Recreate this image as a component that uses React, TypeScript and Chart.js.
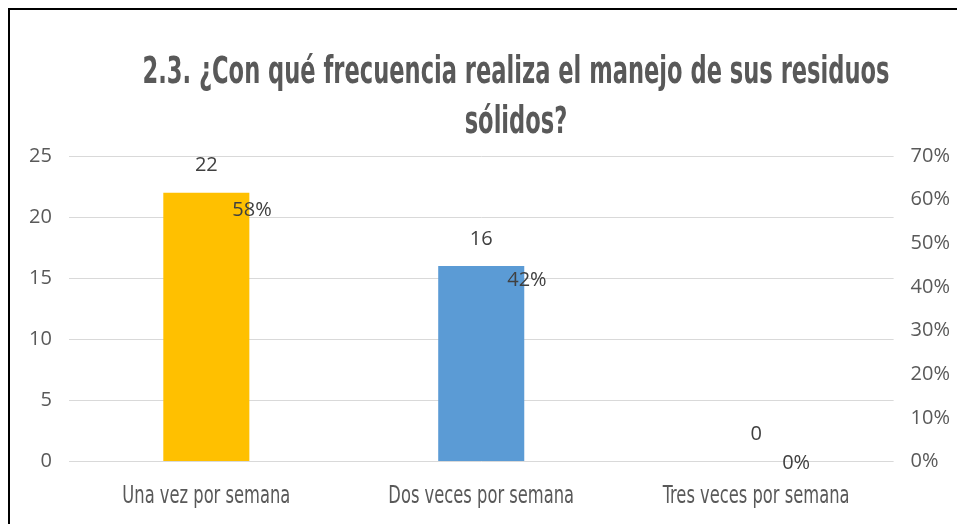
import React, { useEffect, useRef } from "react";
import { Chart, registerables } from "chart.js";

Chart.register(...registerables);

const titleLines = ["2.3. ¿Con qué frecuencia realiza el manejo de sus residuos", "sólidos?"];
const categories = ["Una vez por semana", "Dos veces por semana", "Tres veces por semana"];
const counts = [22, 16, 0];
const shares = [0.58, 0.42, 0];
const barColors = ["#FFC000", "#5B9BD5", "#A5A5A5"];
const leftTicks = [0, 5, 10, 15, 20, 25];
const rightTicks = ["0%", "10%", "20%", "30%", "40%", "50%", "60%", "70%"];

const NARROW = '"Liberation Sans Narrow", "DejaVu Sans Condensed", "Roboto Condensed", "Liberation Sans", sans-serif';
const BODY = '"Open Sans", "Noto Sans", sans-serif';

const textPlugin = {
  id: "condensedText",
  afterDraw(chart: any) {
    const ctx = chart.ctx;
    ctx.save();
    ctx.fillStyle = "#595959";
    // title
    ctx.font = `bold 37px ${NARROW}`;
    ctx.textAlign = "center";
    ctx.textBaseline = "alphabetic";
    const w = ctx.measureText(titleLines[0]).width;
    const sx = Math.min(1, 747 / w);
    const cx = chart.width / 2;
    const baselines = [73, 122.5];
    titleLines.forEach((line, i) => {
      ctx.save();
      ctx.translate(cx, baselines[i]);
      ctx.scale(sx, 1);
      ctx.fillText(line, 0, 0);
      ctx.restore();
    });
    // category labels
    const xs = chart.scales.x;
    ctx.font = `25px ${NARROW}`;
    ctx.textBaseline = "middle";
    const lw = ctx.measureText(categories[0]).width;
    const lsx = Math.min(1, 168 / lw);
    categories.forEach((c, i) => {
      ctx.save();
      ctx.translate(xs.getPixelForTick(i), chart.chartArea.bottom + 35);
      ctx.scale(lsx, 1);
      ctx.fillText(c, 0, 0);
      ctx.restore();
    });
    ctx.restore();
  },
};

const labelPlugin = {
  id: "valueLabels",
  afterDatasetsDraw(chart: any) {
    const ctx = chart.ctx;
    ctx.save();
    ctx.fillStyle = "#404040";
    ctx.font = `20px ${BODY}`;
    chart.data.datasets.forEach((ds: any, di: number) => {
      const meta = chart.getDatasetMeta(di);
      meta.data.forEach((el: any, i: number) => {
        const v = ds.data[i];
        if (ds.type === "line") {
          ctx.textAlign = "left";
          ctx.textBaseline = "middle";
          ctx.fillText(Math.round(v * 100) + "%", el.x + 26, el.y + 2);
        } else {
          ctx.textAlign = "center";
          ctx.textBaseline = "middle";
          ctx.fillText(String(v), el.x, el.y - 27);
        }
      });
    });
    ctx.restore();
  },
};

export default function App() {
  const ref = useRef<HTMLCanvasElement | null>(null);
  useEffect(() => {
    if (!ref.current) return;
    const chart = new Chart(ref.current, {
      type: "bar",
      data: {
        labels: categories,
        datasets: [
          {
            type: "bar",
            label: "Frecuencia",
            data: counts,
            backgroundColor: barColors,
            borderWidth: 0,
            barPercentage: 0.313,
            categoryPercentage: 1,
            yAxisID: "y",
          } as any,
          {
            type: "line",
            label: "Porcentaje",
            data: shares,
            showLine: false,
            pointRadius: 0,
            pointHoverRadius: 0,
            borderColor: "transparent",
            backgroundColor: "transparent",
            yAxisID: "y1",
          } as any,
        ],
      },
      options: {
        responsive: false,
        animation: false,
        devicePixelRatio: 1,
        layout: { padding: { top: 146, left: 2, right: 55, bottom: 8 } },
        plugins: {
          legend: { display: false },
          tooltip: { enabled: false },
          title: { display: false },
        },
        scales: {
          x: {
            grid: { display: false, drawTicks: false },
            border: { display: false },
            ticks: {
              color: "rgba(0,0,0,0)",
              font: { family: NARROW, size: 22 },
              padding: 22,
              maxRotation: 0,
            },
          },
          y: {
            position: "left",
            min: 0,
            max: 25,
            afterBuildTicks: (axis: any) => {
              axis.ticks = leftTicks.map((v) => ({ value: v }));
            },
            grid: { color: "#D9D9D9", lineWidth: 1, drawTicks: false },
            border: { display: false },
            ticks: {
              color: "#595959",
              font: { family: BODY, size: 20 },
              padding: 17,
            },
          },
          y1: {
            position: "right",
            min: 0,
            max: 0.7,
            afterBuildTicks: (axis: any) => {
              axis.ticks = rightTicks.map((_, i) => ({ value: i / 10 }));
            },
            grid: { display: false, drawTicks: false },
            border: { display: false },
            ticks: {
              color: "#595959",
              font: { family: BODY, size: 20 },
              padding: 17,
              callback: (_v: any, i: number) => rightTicks[i],
            },
          },
        },
      },
      plugins: [textPlugin, labelPlugin],
    });
    return () => chart.destroy();
  }, []);

  return (
    <div
      style={{
        position: "fixed",
        left: 8,
        top: 8,
        width: 1016,
        height: 540,
        border: "2px solid #000",
        boxSizing: "border-box",
        background: "#fff",
      }}
    >
      <canvas ref={ref} width={1012} height={530} style={{ display: "block" }} />
    </div>
  );
}
